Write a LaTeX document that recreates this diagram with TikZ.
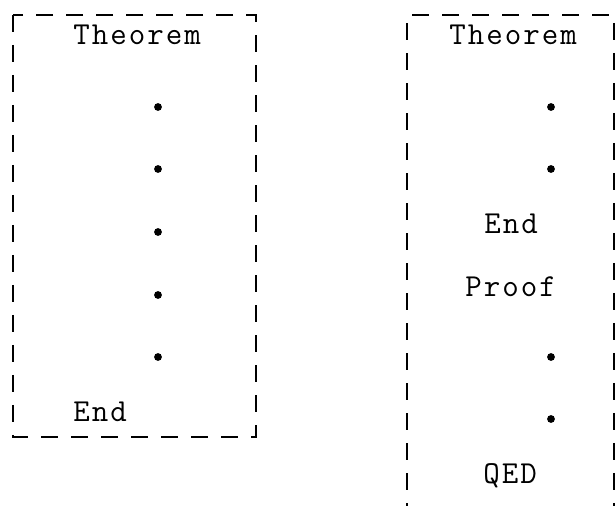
\documentclass[tikz,border=0pt]{standalone}
\usepackage{fontspec}
\makeatletter
\newcommand\lsp[1]{\@tfor\lspch:=#1\do{\lspch\kern1.0pt}\unkern}
\makeatother
\tikzset{
  lbl/.style={anchor=base west, inner sep=0pt, font=\ttfamily\fontsize{16}{19}\selectfont},
  framedash/.style={line width=0.75pt, dash pattern=on 8.5pt off 6.5pt},
  pt/.style={fill=black, circle, inner sep=0pt, minimum size=3.9pt}
}
\begin{document}
\begin{tikzpicture}[x=0.5pt,y=-0.5pt]
\useasboundingbox (0,0) rectangle (616,506);
% left box
\draw[framedash] (13,15) rectangle (256,437);
\node[lbl] (lthm) at (73,45) {\lsp{Theorem}};
\foreach \i/\y in {1/107,2/169,3/232,4/295,5/357}
  \node[pt] (ld\i) at (158,\y) {};
\node[lbl] (lend) at (73,422) {\lsp{End}};
% right box
\draw[framedash] (407,520) -- (407,15) -- (614,15) -- (614,520);
\node[lbl] (rthm) at (449,45) {\lsp{Theorem}};
\node[pt] (rd1) at (551,107) {};
\node[pt] (rd2) at (551,169) {};
\node[lbl] (rend) at (484,234) {\lsp{End}};
\node[lbl] (rproof) at (465,297) {\lsp{Proof}};
\node[pt] (rd3) at (551,357) {};
\node[pt] (rd4) at (551,419) {};
\node[lbl] (qed) at (483,484) {\lsp{QED}};
\end{tikzpicture}
\end{document}
